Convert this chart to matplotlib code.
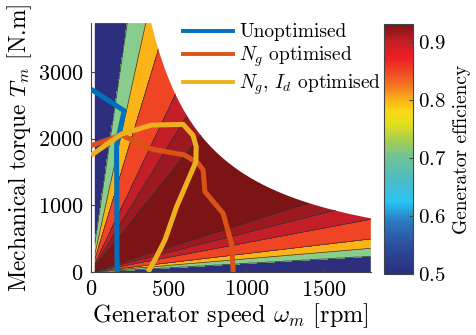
import numpy as np
import matplotlib
matplotlib.use('Agg')
import matplotlib.pyplot as plt
from matplotlib.colors import LinearSegmentedColormap, Normalize
from matplotlib.cm import ScalarMappable
from matplotlib.patches import Polygon
from matplotlib.lines import Line2D

plt.rcParams['font.family'] = 'serif'
plt.rcParams['font.serif'] = ['cmr10']
plt.rcParams['mathtext.fontset'] = 'cm'
plt.rcParams['axes.formatter.use_mathtext'] = True
plt.rcParams['font.size'] = 14

# efficiency map: torque/speed ratio (N.m/rpm) of each contour
torqueSpeedRatio = [0.133, 0.197, 0.275, 0.44, 0.59, 0.74, 1.46, 2.9, 3.8, 4.9, 7.7, 10.6, 15.9]
effAtRatio = [0.70, 0.80, 0.85, 0.88, 0.90, 0.91, 0.93, 0.91, 0.90, 0.88, 0.85, 0.80, 0.70]
effLevels = [0.0, 0.70, 0.80, 0.85, 0.88, 0.90, 0.91, 1.0]
bandColors = ['#2d2f7e', '#88cc8e', '#fbb418', '#ef4524', '#c41f29', '#9c1a1f', '#7c1416']

powerLimit = 1.45e6  # torque * speed limit (N.m * rpm)
speedMin, speedMax = 25, 1800
torqueMax = 3735

# operating lines
unoptSpeed = [0, 214, 165, 168]
unoptTorque = [2745, 2420, 1900, 0]

ngSpeed = [0, 197, 390, 604, 690, 722, 733, 850, 904, 915]
ngTorque = [1895, 2055, 1845, 1755, 1630, 1530, 1205, 880, 430, 0]

ngIdSpeed = [0, 197, 390, 593, 657, 677, 675, 625, 551, 476, 422, 368]
ngIdTorque = [1750, 2070, 2205, 2215, 2050, 1880, 1650, 1380, 980, 480, 230, 0]

cbNodes = [0.50, 0.55, 0.59, 0.625, 0.66, 0.70, 0.73, 0.76, 0.78, 0.80, 0.82, 0.845, 0.87, 0.90, 0.93]
cbColors = ['#2b2e7e', '#2b4f9e', '#2a7bc0', '#27c4f4', '#4cbcc6', '#6dc29a', '#a6cf4f', '#e3e01b',
            '#fcd817', '#fbb117', '#f58020', '#f04e23', '#ee1f25', '#c81e26', '#7a1416']

fig = plt.figure(figsize=(4.76, 3.35), dpi=100)
ax = fig.add_axes([0.191, 0.188, 0.588, 0.743])
cax = fig.add_axes([0.807, 0.182, 0.061, 0.746])

w = np.linspace(speedMin, speedMax, 500)
t = np.linspace(1e-3, torqueMax, 500)
W, T = np.meshgrid(w, t)
logRatio = np.log(T / W)
eff = np.interp(logRatio, np.log(torqueSpeedRatio[6:]), effAtRatio[6:])
low = logRatio < np.log(torqueSpeedRatio[6])
eff[low] = np.interp(logRatio[low], np.log(torqueSpeedRatio[:7]), effAtRatio[:7])

cs = ax.contourf(W, T, eff, levels=effLevels, colors=bandColors)
cl = ax.contour(W, T, eff, levels=effLevels[1:-1], colors='#333333', linewidths=0.5)

edge = np.linspace(powerLimit / torqueMax, speedMax, 200)
clipPts = [(speedMin, 0), (speedMax, 0)] + [(x, powerLimit / x) for x in edge[::-1]] + [(speedMin, torqueMax)]
clip = Polygon(clipPts, closed=True, transform=ax.transData, facecolor='none', edgecolor='none')
ax.add_patch(clip)
cs.set_clip_path(clip)
cl.set_clip_path(clip)

ax.plot(unoptSpeed, unoptTorque, color='#0072bd', lw=3.6, solid_capstyle='butt', zorder=5)
ax.plot(ngSpeed, ngTorque, color='#d95319', lw=3.6, solid_capstyle='butt', zorder=5)
ax.plot(ngIdSpeed, ngIdTorque, color='#edb120', lw=3.6, solid_capstyle='butt', zorder=6)

ax.set_xlim(0, 1800)
ax.set_ylim(0, torqueMax)
ax.set_xticks([0, 500, 1000, 1500])
ax.set_yticks([0, 1000, 2000, 3000])
ax.spines['top'].set_visible(False)
ax.spines['right'].set_visible(False)
for s in ['left', 'bottom']:
    ax.spines[s].set_color('#444444')
    ax.spines[s].set_linewidth(0.8)
ax.tick_params(direction='in', length=3, color='#444444', pad=5.5, labelsize=16)
ax.set_xlabel(r'Generator speed $\omega_m$ [rpm]', fontsize=17.5, labelpad=1)
ax.set_ylabel(r'Mechanical torque $T_m$ [N.m]', fontsize=16.8, labelpad=3)

handles = [Line2D([], [], color='#0072bd', lw=2.8),
           Line2D([], [], color='#d95319', lw=2.8),
           Line2D([], [], color='#edb120', lw=2.8)]
labels = ['Unoptimised', r'$N_g$ optimised', r'$N_g$, $I_d$ optimised']
ax.legend(handles, labels, loc='upper left', bbox_to_anchor=(0.3, 1.03), frameon=False,
          handlelength=2.6, handletextpad=0.3, labelspacing=0.17, borderaxespad=0)

cbPos = np.clip((np.array(cbNodes) - 0.5) / 0.43, 0, 1)
cbPos[0], cbPos[-1] = 0.0, 1.0
cmap = LinearSegmentedColormap.from_list('eff', list(zip(cbPos, cbColors)))
sm = ScalarMappable(norm=Normalize(0.5, 0.93), cmap=cmap)
cb = fig.colorbar(sm, cax=cax)
cb.set_ticks([0.5, 0.6, 0.7, 0.8, 0.9])
cb.ax.tick_params(direction='in', length=3, color='#444444', labelsize=15)
cb.outline.set_edgecolor('#444444')
cb.set_label('Generator efficiency', fontsize=14, labelpad=5)

fig.savefig('out.png', dpi=100)
